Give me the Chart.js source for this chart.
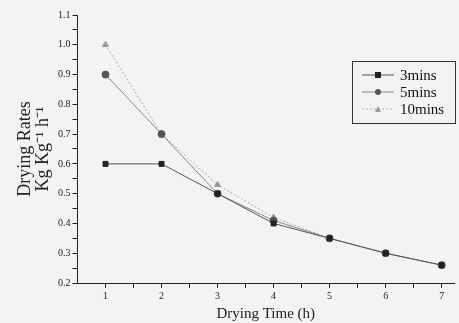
<!DOCTYPE html>
<html>
<head>
<meta charset="utf-8">
<script src="https://cdn.jsdelivr.net/npm/chart.js@4"></script>
<style>
  html, body { margin: 0; padding: 0; background: #f3f3f1; }
  #wrap { width: 459px; height: 323px; position: relative; }
</style>
</head>
<body>
<div id="wrap"><canvas id="secadoChart"></canvas></div>
<script>
// ==========================
// DATOS
// ==========================

const tiempos = [1, 2, 3, 4, 5, 6, 7];

const seriesNombres = ['3mins', '5mins', '10mins'];

const tasa3 = [0.60, 0.60, 0.50, 0.40, 0.35, 0.30, 0.26];
const tasa5 = [0.90, 0.70, 0.50, 0.41, 0.35, 0.30, 0.26];
const tasa10 = [1.00, 0.70, 0.53, 0.42, 0.35, 0.30, 0.26];

const ejeY = { min: 0.2, max: 1.1 };
const ejeX = { min: 0.5, max: 7.22 };

const pares = (vals) => tiempos.map((t, i) => ({ x: t, y: vals[i] }));

// ==========================
// LEYENDA DENTRO DEL GRAFICO
// ==========================

const leyendaCaja = {
    id: 'leyendaCaja',
    afterDraw(chart) {
        const ctx = chart.ctx;
        const x0 = 352, y0 = 61, w = 103, h = 62;
        ctx.save();
        ctx.strokeStyle = '#333';
        ctx.lineWidth = 1;
        ctx.strokeRect(x0 + 0.5, y0 + 0.5, w, h);
        chart.data.datasets.forEach((ds, i) => {
            const y = y0 + 14 + i * 17;
            ctx.strokeStyle = ds.borderColor;
            ctx.lineWidth = 1;
            ctx.setLineDash(ds.borderDash || []);
            ctx.beginPath();
            ctx.moveTo(x0 + 10, y);
            ctx.lineTo(x0 + 42, y);
            ctx.stroke();
            ctx.setLineDash([]);
            ctx.fillStyle = ds.pointBackgroundColor;
            const cx = x0 + 26;
            if (ds.pointStyle === 'rect') {
                ctx.fillRect(cx - 3, y - 3, 6, 6);
            } else if (ds.pointStyle === 'circle') {
                ctx.beginPath();
                ctx.arc(cx, y, 3, 0, Math.PI * 2);
                ctx.fill();
            } else {
                ctx.beginPath();
                ctx.moveTo(cx, y - 3);
                ctx.lineTo(cx + 3, y + 3);
                ctx.lineTo(cx - 3, y + 3);
                ctx.closePath();
                ctx.fill();
            }
            ctx.fillStyle = '#111';
            ctx.font = '15px "Liberation Serif"';
            ctx.textBaseline = 'middle';
            ctx.fillText(ds.label, x0 + 48, y + 1);
        });
        ctx.restore();
    }
};

// ==========================
// GRAFICO DE LINEAS
// ==========================

const secadoCtx = document.getElementById('secadoChart');

new Chart(secadoCtx, {

    type: 'line',

    data: {

        datasets: [

            {
                label: seriesNombres[0],
                data: pares(tasa3),
                borderColor: '#555',
                borderWidth: 1,
                pointStyle: 'rect',
                pointRadius: 3.5,
                pointBackgroundColor: '#222',
                pointBorderColor: '#222'
            },

            {
                label: seriesNombres[1],
                data: pares(tasa5),
                borderColor: '#888',
                borderWidth: 1,
                pointStyle: 'circle',
                pointRadius: 3.5,
                pointBackgroundColor: '#555',
                pointBorderColor: '#555'
            },

            {
                label: seriesNombres[2],
                data: pares(tasa10),
                borderColor: '#aaa',
                borderWidth: 1,
                borderDash: [2, 2],
                pointStyle: 'triangle',
                pointRadius: 3.5,
                pointBackgroundColor: '#999',
                pointBorderColor: '#999'
            }

        ]

    },

    options: {

        responsive: true,
        maintainAspectRatio: false,
        animation: false,

        layout: {
            padding: { top: 15, right: 0, left: 16, bottom: 0 }
        },

        plugins: {
            legend: { display: false },
            tooltip: { enabled: false }
        },

        scales: {

            x: {
                type: 'linear',
                min: ejeX.min,
                max: ejeX.max,
                border: { color: '#222', width: 1 },
                grid: {
                    drawOnChartArea: false,
                    color: '#222',
                    tickLength: 5
                },
                ticks: {
                    stepSize: 0.5,
                    color: '#222',
                    padding: 2,
                    font: { family: 'Liberation Serif', size: 10 },
                    autoSkip: false,
                    maxRotation: 0,
                    callback: (v) => Number.isInteger(v) ? String(v) : ''
                },
                afterBuildTicks: (axis) => {
                    axis.ticks = [];
                    for (let v = 1; v <= 7.001; v += 0.5) axis.ticks.push({ value: v });
                },
                title: {
                    display: true,
                    text: 'Drying Time (h)',
                    color: '#222',
                    font: { family: 'Liberation Serif', size: 15 },
                    padding: { top: 1, bottom: 0 }
                }
            },

            y: {
                min: ejeY.min,
                max: ejeY.max,
                border: { color: '#222', width: 1 },
                grid: {
                    drawOnChartArea: false,
                    color: '#222',
                    tickLength: 5
                },
                ticks: {
                    stepSize: 0.05,
                    color: '#222',
                    padding: 2,
                    font: { family: 'Liberation Serif', size: 10 },
                    autoSkip: false,
                    callback: (v) => {
                        const r = Math.round(v * 100);
                        return r % 10 === 0 ? (r / 100).toFixed(1) : '';
                    }
                },
                title: {
                    display: true,
                    text: ['Drying Rates', 'Kg Kg\u207B\u00B9 h\u207B\u00B9'],
                    color: '#222',
                    font: { family: 'Liberation Serif', size: 18, lineHeight: 1.0 },
                    padding: { top: 0, bottom: 4 }
                }
            }

        }

    },

    plugins: [leyendaCaja]

});
</script>
</body>
</html>
